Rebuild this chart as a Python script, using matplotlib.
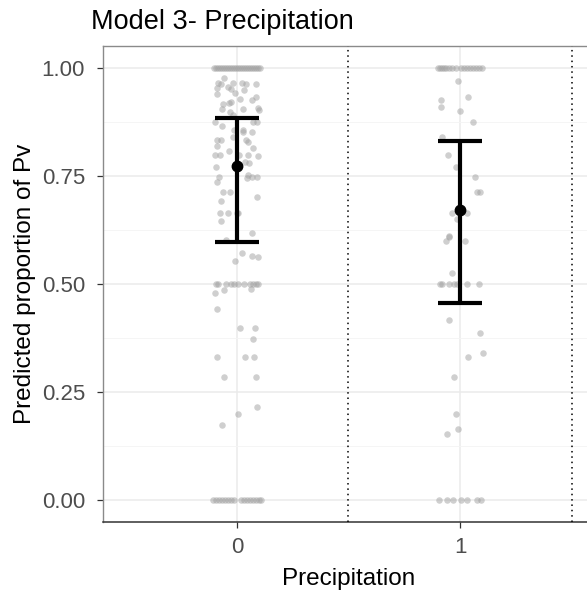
import numpy as np
import matplotlib
matplotlib.use("Agg")
import matplotlib.pyplot as plt
from matplotlib.ticker import MultipleLocator

plt.rcParams['font.family'] = ['Liberation Sans', 'DejaVu Sans']

# groups and summary stats (mean with interval)
groups = [0, 1]
means = [0.773, 0.671]
lower = [0.597, 0.456]
upper = [0.884, 0.831]

# raw observations: horizontal jitter (in x units) and y value
g0_jit = [-0.104, -0.094, -0.085, -0.076, -0.067, -0.058, -0.049, -0.040, -0.031, -0.022,
          -0.013, -0.004, 0.005, 0.014, 0.023, 0.032, 0.041, 0.050, 0.059, 0.068, 0.077, 0.086, 0.095, 0.104,
          -0.058, -0.085, -0.072, -0.040, -0.018, 0.022, 0.040, 0.085, -0.090, -0.027, -0.009, 0.031,
          -0.090, 0.013, 0.085, 0.067, -0.027, -0.063, -0.036, -0.067, 0.027, 0.094, -0.031, 0.099,
          -0.018, 0.072, -0.099, 0.090, -0.067, -0.013, 0.027, 0.067, 0.027, -0.018, -0.090, -0.072,
          0.040, 0.049, -0.090, 0.072, -0.036, 0.009, 0.049, 0.094, -0.076, -0.099, 0.036, 0.054,
          -0.094, -0.081, 0.045, 0.049, 0.090, 0.067, -0.090, -0.063, -0.031, 0.090, -0.072, 0.0,
          0.004, -0.076, -0.040, -0.072, 0.067, 0.094, 0.067, -0.009, 0.022, -0.049,
          -0.094, -0.085, -0.049, -0.027, -0.013, 0.004, 0.031, 0.058, 0.072, 0.085, 0.094,
          -0.099, -0.058, 0.063, -0.090, 0.013, 0.081, 0.072, -0.090, 0.036, 0.076,
          -0.058, 0.085, 0.090, 0.004, -0.067,
          -0.108, -0.094, -0.081, -0.067, -0.054, -0.040, -0.027, -0.013, 0.018, 0.031, 0.045,
          0.058, 0.072, 0.085, 0.099, 0.108]
g0_y = [1.0] * 24 + \
       [0.977, 0.965, 0.963, 0.956, 0.965, 0.965, 0.961, 0.961, 0.954, 0.951, 0.942, 0.949,
        0.940, 0.928, 0.933, 0.924, 0.921, 0.917, 0.919, 0.905, 0.905, 0.907, 0.898, 0.903,
        0.891, 0.875, 0.875, 0.875, 0.866, 0.856, 0.856, 0.852, 0.850, 0.840, 0.833, 0.833,
        0.833, 0.829, 0.819, 0.815, 0.808, 0.799, 0.799, 0.796, 0.799, 0.799, 0.782, 0.780,
        0.769, 0.748, 0.745, 0.752, 0.748, 0.748, 0.736, 0.713, 0.713, 0.701, 0.692, 0.664,
        0.664, 0.664, 0.664, 0.646, 0.618, 0.563, 0.565, 0.553, 0.572, 0.602] + \
       [0.5] * 11 + \
       [0.479, 0.486, 0.488, 0.442, 0.398, 0.398, 0.373, 0.331, 0.331, 0.331, 0.285, 0.285,
        0.215, 0.199, 0.174] + \
       [0.0] * 16

g1_jit = [-0.099, -0.090, -0.081, -0.072, -0.063, -0.049, -0.036, -0.018, 0.004, 0.018,
          0.031, 0.045, 0.058, 0.072, 0.085, 0.099,
          -0.009, 0.036, -0.085, -0.085, 0.0, 0.058, -0.081, -0.054, -0.018, 0.067, 0.076,
          0.090, -0.036, 0.031, -0.013, -0.049, -0.049, -0.063, 0.022, -0.036,
          -0.090, -0.081, -0.049, -0.027, -0.013, 0.031, 0.085,
          -0.049, 0.090, 0.036, 0.103, -0.027, -0.018, -0.009, -0.058,
          -0.094, -0.058, -0.031, 0.004, 0.031, 0.076, 0.094]
g1_y = [1.0] * 16 + \
       [0.968, 0.933, 0.924, 0.910, 0.900, 0.875, 0.840, 0.799, 0.769, 0.748, 0.713, 0.713,
        0.664, 0.664, 0.650, 0.609, 0.611, 0.600, 0.600, 0.525] + \
       [0.5] * 7 + \
       [0.417, 0.387, 0.331, 0.340, 0.285, 0.199, 0.164, 0.153] + \
       [0.0] * 7

fig = plt.figure(figsize=(5.87, 5.92), dpi=100)
ax = fig.add_axes([103 / 587, 70.4 / 592, 491 / 587, 475.6 / 592])

# jittered raw points
ax.scatter(np.array(g0_jit) + groups[0], g0_y, s=22, color='#a0a0a0', alpha=0.5,
           linewidths=0, zorder=2)
ax.scatter(np.array(g1_jit) + groups[1], g1_y, s=22, color='#a0a0a0', alpha=0.5,
           linewidths=0, zorder=2)

# mean and interval
yerr = [np.array(means) - np.array(lower), np.array(upper) - np.array(means)]
ax.errorbar(groups, means, yerr=yerr, fmt='o', color='black', ms=7.5,
            elinewidth=3, capsize=16, capthick=3, zorder=4)

# separators between groups
for xv in [0.5, 1.5]:
    ax.axvline(xv, color='black', linestyle=(0, (1, 2.5)), linewidth=1.1, zorder=3)

ax.set_xlim(-0.6, 1.6)
ax.set_ylim(-0.05, 1.05)
ax.set_xticks(groups)
ax.set_xticklabels([str(g) for g in groups])
ax.set_yticks([0, 0.25, 0.5, 0.75, 1.0])
ax.set_yticklabels(['0.00', '0.25', '0.50', '0.75', '1.00'])
ax.yaxis.set_minor_locator(MultipleLocator(0.125))

ax.grid(which='major', color='#ebebeb', linewidth=1.1, zorder=0)
ax.grid(which='minor', axis='y', color='#f4f4f4', linewidth=0.6, zorder=0)
ax.set_axisbelow(True)

ax.tick_params(axis='both', which='major', length=4, width=0.9, color='#333333',
               labelsize=16, labelcolor='#4d4d4d')
ax.tick_params(axis='y', pad=9)
ax.tick_params(axis='x', pad=7)
ax.tick_params(which='minor', length=0)

for side in ['left', 'top', 'right']:
    ax.spines[side].set_color('#8a8a8a')
    ax.spines[side].set_linewidth(1.0)
ax.spines['bottom'].set_color('#333333')
ax.spines['bottom'].set_linewidth(1.1)

ax.set_xlabel('Precipitation', fontsize=17.5, labelpad=7)
ax.set_ylabel('Predicted proportion of Pv', fontsize=17.5, labelpad=4)

fig.text(91 / 587, 1 - 29 / 592, 'Model 3- Precipitation', fontsize=19.5,
         ha='left', va='baseline')

fig.savefig('out.png', dpi=100)
